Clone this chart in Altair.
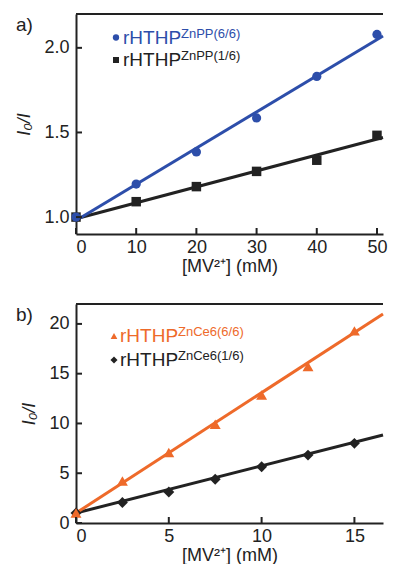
import altair as alt
import pandas as pd

FONT = "Liberation Sans"
BLUE = "#2d4eaa"
ORANGE = "#ee6a2a"
BLACK = "#222222"

# ---- panel a data ----
xa = [0, 10, 20, 30, 40, 50]
ya_66 = [1.0, 1.195, 1.385, 1.586, 1.831, 2.079]
ya_16 = [1.0, 1.091, 1.18, 1.27, 1.336, 1.483]
fit_a_x = [0, 51.0]
fit_a_66 = [0.98, 2.07]
fit_a_16 = [0.99, 1.47]
xa_ticks = [0, 10, 20, 30, 40, 50]
ya_ticks = [1.0, 1.5, 2.0]

# ---- panel b data ----
xb = [0, 2.5, 5, 7.5, 10, 12.5, 15]
yb_66 = [1.0, 4.23, 7.09, 9.91, 12.87, 15.73, 19.3]
yb_16 = [1.0, 2.05, 3.12, 4.4, 5.65, 6.82, 8.0]
fit_b_x = [0, 16.54]
fit_b_66 = [1.0, 21.0]
fit_b_16 = [1.0, 8.84]
xb_ticks = [0, 5, 10, 15]
yb_ticks = [0, 5, 10, 15, 20]

leg_main = ["rHTHP", "rHTHP"]
leg_a_sup = ["ZnPP(6/6)", "ZnPP(1/6)"]
leg_b_sup = ["ZnCe6(6/6)", "ZnCe6(1/6)"]

W = 307


def panel(label, yfmt, H, xs, y66, y16, fx, f66, f16, xdom, ydom, xt, yt, c66, sh66, sz66, lsz66,
          sh16, sz16, lsz16, sup, leg_pos):
    X = alt.X("x:Q", scale=alt.Scale(domain=xdom, nice=False, zero=False),
              axis=alt.Axis(values=xt, title="[MV²⁺] (mM)", format="d"))
    Y = alt.Y("y:Q", scale=alt.Scale(domain=ydom, nice=False, zero=False),
              axis=alt.Axis(values=yt, title="I₀/I", format=yfmt))
    d66 = pd.DataFrame({"x": xs, "y": y66})
    d16 = pd.DataFrame({"x": xs, "y": y16})
    l66 = pd.DataFrame({"x": fx, "y": f66})
    l16 = pd.DataFrame({"x": fx, "y": f16})
    layers = [
        alt.Chart(l16).mark_line(color=BLACK, strokeWidth=3).encode(x=X, y=Y),
        alt.Chart(l66).mark_line(color=c66, strokeWidth=3).encode(x=X, y=Y),
        alt.Chart(d16).mark_point(shape=sh16, size=sz16, filled=True, opacity=1, color=BLACK).encode(x=X, y=Y),
        alt.Chart(d66).mark_point(shape=sh66, size=sz66, filled=True, opacity=1, color=c66).encode(x=X, y=Y),
        # inward ticks
        alt.Chart(pd.DataFrame({"x": xt})).mark_rule(color=BLACK, strokeWidth=2).encode(
            x=X, y=alt.value(H), y2=alt.value(H - 6)),
        alt.Chart(pd.DataFrame({"y": yt})).mark_rule(color=BLACK, strokeWidth=2).encode(
            y=Y, x=alt.value(0), x2=alt.value(6)),
        # top frame
        alt.Chart(pd.DataFrame({"y": [ydom[1]]})).mark_rule(color=BLACK, strokeWidth=2).encode(
            y=Y, x=alt.value(0), x2=alt.value(W)),
    ]
    sx, tx, b1, b2 = leg_pos
    cols = [c66, BLACK]
    shapes = [(sh66, lsz66), (sh16, lsz16)]
    for i in range(2):
        bl = b1 if i == 0 else b2
        layers.append(alt.Chart(pd.DataFrame({"t": [leg_main[i]]})).mark_text(
            align="left", baseline="alphabetic", fontSize=19, font=FONT, color=cols[i]).encode(
            x=alt.value(tx), y=alt.value(bl), text="t:N"))
        layers.append(alt.Chart(pd.DataFrame({"t": [sup[i]]})).mark_text(
            align="left", baseline="alphabetic", fontSize=13, font=FONT, color=cols[i]).encode(
            x=alt.value(tx + 58), y=alt.value(bl - 6), text="t:N"))
        layers.append(alt.Chart(pd.DataFrame({"t": [sup[i]]})).mark_point(
            shape=shapes[i][0], size=shapes[i][1], filled=True, opacity=1, color=cols[i]).encode(
            x=alt.value(sx), y=alt.value(bl - 6)))
    layers.append(alt.Chart(pd.DataFrame({"t": [label]})).mark_text(
        align="left", baseline="alphabetic", fontSize=19, font=FONT, color=BLACK).encode(
        x=alt.value(-60), y=alt.value(17), text="t:N"))
    return alt.layer(*layers).properties(width=W, height=H)


pa = panel("a)", ".1f", 220, xa, ya_66, ya_16, fit_a_x, fit_a_66, fit_a_16, [0, 51.0], [0.9, 2.2],
           xa_ticks, ya_ticks, BLUE, "circle", 85, 40, "square", 90, 36, leg_a_sup,
           (40, 47, 29.5, 52))
pb = panel("b)", "d", 219, xb, yb_66, yb_16, fit_b_x, fit_b_66, fit_b_16, [0, 16.54], [0, 22],
           xb_ticks, yb_ticks, ORANGE, "triangle-up", 120, 45, "diamond", 120, 50, leg_b_sup,
           (38, 44, 38, 62))

chart = alt.vconcat(pa, pb, spacing=28).properties(
    padding={"left": 7, "top": 5, "right": 0, "bottom": 0}
).configure_view(stroke=None).configure_axis(
    domainColor=BLACK, domainWidth=2, tickSize=0, grid=False,
    labelFont=FONT, labelFontSize=18, labelColor=BLACK,
    titleFont=FONT, titleFontSize=18, titleColor=BLACK, titleFontWeight="normal",
).configure_axisX(titlePadding=1, labelPadding=4).configure_axisY(
    titleFontStyle="italic", titlePadding=10, labelPadding=7)

chart.save("out.html", embed_options={"renderer": "svg", "actions": False})
